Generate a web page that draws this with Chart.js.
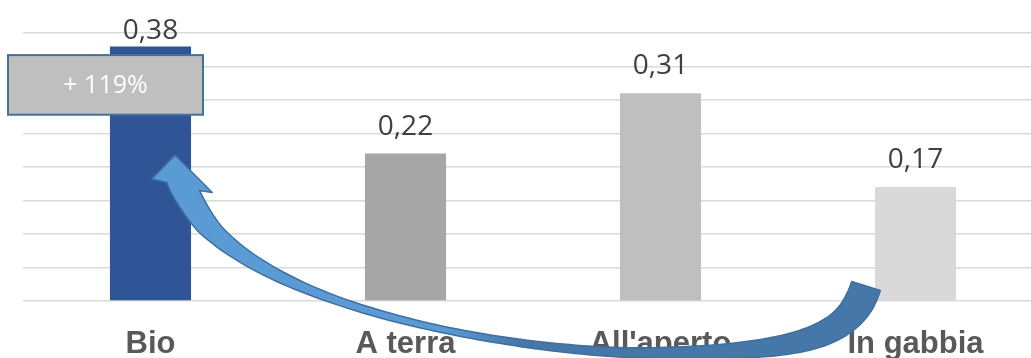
<!DOCTYPE html>
<html>
<head>
<meta charset="utf-8">
<script src="https://cdn.jsdelivr.net/npm/chart.js@4/dist/chart.umd.min.js"></script>
<style>
  html, body { margin: 0; padding: 0; background: #ffffff; overflow: hidden; }
  canvas { display: block; }
</style>
</head>
<body>
<canvas id="chart" width="1043" height="358"></canvas>
<script>
// Prezzo per uovo (€) by farming method
const categories = ['Bio', 'A terra', "All'aperto", 'In gabbia'];
const prices = [0.38, 0.22, 0.31, 0.17];
const barColors = ['#2f5597', '#a6a6a6', '#bfbfbf', '#d9d9d9'];
const axisMin = 0;
const axisMax = 0.40;
const axisStep = 0.05;
const gapLabel = '+ 119%';

const fmt = v => v.toFixed(2).replace('.', ',');

// Value printed above each bar
const valueLabels = {
  id: 'valueLabels',
  afterDatasetsDraw(chart) {
    const { ctx, chartArea } = chart;
    const meta = chart.getDatasetMeta(0);
    ctx.save();
    ctx.font = '400 28px "Open Sans"';
    ctx.fillStyle = '#404040';
    ctx.textAlign = 'center';
    ctx.textBaseline = 'alphabetic';
    meta.data.forEach((bar, i) => {
      const y = Math.max(bar.y - 19, chartArea.top + 6);
      ctx.fillText(fmt(prices[i]), bar.x, y);
    });
    ctx.restore();
  }
};

// Grey callout box over the first bar and the curved arrow from the last bar to it
const callout = {
  id: 'callout',
  afterDraw(chart) {
    const { ctx } = chart;
    const xs = chart.scales.x;
    const ys = chart.scales.y;
    const bio = chart.getDatasetMeta(0).data[0];

    // box
    const bx0 = bio.x - 142.5, bx1 = bio.x + 52.5;
    const by0 = ys.getPixelForValue(0.367), by1 = ys.getPixelForValue(0.278);
    ctx.save();
    ctx.fillStyle = '#bfbfbf';
    ctx.fillRect(bx0, by0, bx1 - bx0, by1 - by0);
    ctx.lineWidth = 2;
    ctx.strokeStyle = '#41719c';
    ctx.strokeRect(bx0, by0, bx1 - bx0, by1 - by0);
    ctx.font = '400 25px "Open Sans"';
    ctx.fillStyle = '#ffffff';
    ctx.textAlign = 'center';
    ctx.textBaseline = 'middle';
    ctx.fillText(gapLabel, (bx0 + bx1) / 2, (by0 + by1) / 2 + 1);
    ctx.restore();

    // arrow body: two cubic segments in axis units [category position, value]
    const P = ([u, v]) => [xs.getPixelForValue(u), ys.getPixelForValue(v)];
    const segments = [
      [[0.1275, 0.1701], [0.3000, -0.0100], [1.4490, -0.0776], [1.9588, -0.0776]],
      [[1.9588, -0.0776], [2.5471, -0.0776], [2.7412, -0.0557], [2.8059, 0.0224]]
    ].map(seg => seg.map(P));
    // half width (px) of the band along the category axis
    const widthAt = [
      [0.1275, 16], [0.1863, 12.5], [0.2529, 9.5], [0.3510, 7.5], [0.4686, 6], [0.6059, 4.8],
      [0.7431, 4], [1.1471, 3.2], [1.4176, 3.5], [1.6882, 4.2], [1.9588, 5.2], [2.2294, 7],
      [2.5000, 10], [2.7039, 13], [2.7824, 15], [2.8059, 15]
    ].map(([u, w]) => [xs.getPixelForValue(u), w]);
    const head = {
      tip: [0.096, 0.218], leftBarb: [0.005, 0.182], leftNotch: [0.064, 0.177],
      rightNotch: [0.191, 0.165], rightBarb: [0.242, 0.162]
    };

    const halfWidth = x => {
      if (x <= widthAt[0][0]) return widthAt[0][1];
      for (let i = 1; i < widthAt.length; i++) {
        if (x <= widthAt[i][0]) {
          const [x0, w0] = widthAt[i - 1], [x1, w1] = widthAt[i];
          return w0 + (w1 - w0) * (x - x0) / (x1 - x0);
        }
      }
      return widthAt[widthAt.length - 1][1];
    };

    const sideA = [], sideB = [];
    segments.forEach((seg, si) => {
      const [p0, c1, c2, p3] = seg;
      const N = 80;
      for (let s = (si === 0 ? 0 : 1); s <= N; s++) {
        const t = s / N, m = 1 - t;
        const x = m*m*m*p0[0] + 3*m*m*t*c1[0] + 3*m*t*t*c2[0] + t*t*t*p3[0];
        const y = m*m*m*p0[1] + 3*m*m*t*c1[1] + 3*m*t*t*c2[1] + t*t*t*p3[1];
        let dx = 3*m*m*(c1[0]-p0[0]) + 6*m*t*(c2[0]-c1[0]) + 3*t*t*(p3[0]-c2[0]);
        let dy = 3*m*m*(c1[1]-p0[1]) + 6*m*t*(c2[1]-c1[1]) + 3*t*t*(p3[1]-c2[1]);
        const len = Math.hypot(dx, dy) || 1;
        dx /= len; dy /= len;
        const w = halfWidth(x);
        sideA.push([x - dy * w, y + dx * w]);
        sideB.push([x + dy * w, y - dx * w]);
      }
    });
    // ease the band into the notches of the arrow head
    const ln = P(head.leftNotch), rn = P(head.rightNotch);
    const blend = 10;
    for (let i = 0; i < blend; i++) {
      const k = i / blend, e = k * k * (3 - 2 * k);
      sideA[i] = [ln[0] + (sideA[i][0] - ln[0]) * e, ln[1] + (sideA[i][1] - ln[1]) * e];
      sideB[i] = [rn[0] + (sideB[i][0] - rn[0]) * e, rn[1] + (sideB[i][1] - rn[1]) * e];
    }

    const grad = ctx.createLinearGradient(xs.getPixelForValue(1.15), 0, xs.getPixelForValue(1.45), 0);
    grad.addColorStop(0, '#5b9bd5');
    grad.addColorStop(1, '#4677a9');

    ctx.save();
    ctx.lineJoin = 'round';
    ctx.beginPath();
    const lb = P(head.leftBarb), tp = P(head.tip), rb = P(head.rightBarb);
    ctx.moveTo(lb[0], lb[1]);
    ctx.lineTo(tp[0], tp[1]);
    ctx.lineTo(rb[0], rb[1]);
    sideB.forEach(p => ctx.lineTo(p[0], p[1]));
    for (let i = sideA.length - 1; i >= 0; i--) ctx.lineTo(sideA[i][0], sideA[i][1]);
    ctx.closePath();
    ctx.fillStyle = grad;
    ctx.fill();
    ctx.lineWidth = 1.5;
    ctx.strokeStyle = '#3f6f9f';
    ctx.stroke();
    ctx.restore();
  }
};

new Chart(document.getElementById('chart'), {
  type: 'bar',
  data: {
    labels: categories,
    datasets: [{
      data: prices,
      backgroundColor: barColors,
      borderWidth: 0,
      categoryPercentage: 1,
      barPercentage: 0.318
    }]
  },
  options: {
    responsive: false,
    devicePixelRatio: 1,
    animation: false,
    layout: { padding: { left: 23, right: 0, top: 33, bottom: 0 } },
    plugins: { legend: { display: false }, tooltip: { enabled: false } },
    scales: {
      x: {
        grid: { display: false },
        border: { display: false },
        ticks: {
          color: '#595959',
          font: { family: '"Liberation Sans", Arial, sans-serif', size: 31, weight: 'bold' },
          padding: 17,
          maxRotation: 0,
          autoSkip: false
        },
        afterFit(scale) { scale.height = 57; }
      },
      y: {
        min: axisMin,
        max: axisMax,
        ticks: { display: false, stepSize: axisStep },
        grid: { color: '#d9d9d9', lineWidth: 1.5, drawTicks: false },
        border: { display: false }
      }
    }
  },
  plugins: [valueLabels, callout]
});
</script>
</body>
</html>
